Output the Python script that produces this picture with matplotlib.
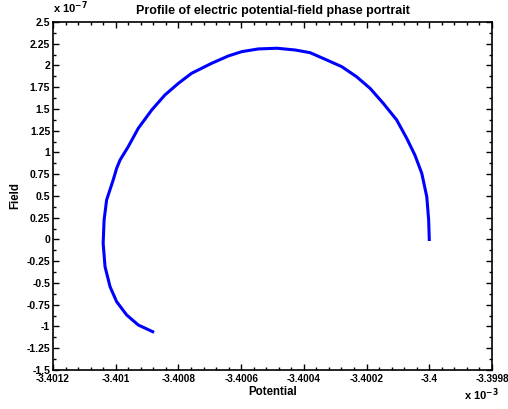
import numpy as np
import matplotlib.pyplot as plt
from matplotlib.ticker import AutoMinorLocator

plt.rcParams['font.family'] = ['Liberation Sans', 'DejaVu Sans']
plt.rcParams['font.weight'] = 'bold'

# Phase portrait samples: potential (V) and field
potential = np.array([
    -3.400000, -3.400002, -3.400008, -3.400024, -3.400046, -3.400072,
    -3.400104, -3.400147, -3.400189, -3.400232, -3.400279, -3.400327,
    -3.400380, -3.400428, -3.400486, -3.400545, -3.400598, -3.400641,
    -3.400694, -3.400758, -3.400800, -3.400843, -3.400885, -3.400928,
    -3.400960, -3.400986, -3.400997, -3.401008, -3.401029, -3.401037,
    -3.401040, -3.401034, -3.401018, -3.400997, -3.400965, -3.400928,
    -3.400882,
]) * 1e-3
field = np.array([
    0.000, 0.224, 0.492, 0.761, 0.971, 1.163,
    1.374, 1.566, 1.738, 1.871, 1.986, 2.063,
    2.147, 2.178, 2.198, 2.190, 2.159, 2.109,
    2.025, 1.910, 1.795, 1.661, 1.489, 1.278,
    1.067, 0.914, 0.818, 0.684, 0.454, 0.224,
    -0.044, -0.313, -0.543, -0.715, -0.868, -0.983,
    -1.060,
]) * 1e-7

fig = plt.figure(figsize=(5.08, 4.09), dpi=100)
ax = fig.add_axes([0.1043, 0.0954, 0.8642, 0.8509])

ax.plot(potential / 1e-3, field / 1e-7, color='#0000ff', lw=2.2)

ax.set_xlim(-3.4012, -3.3998)
ax.set_ylim(-1.5, 2.5)

xt = np.arange(-3.4012, -3.39979, 0.0002)
ax.set_xticks(xt)
ax.set_xticklabels(['%g' % round(v, 4) for v in xt])
yt = np.arange(-1.5, 2.51, 0.25)
ax.set_yticks(yt)
ax.set_yticklabels(['%g' % round(v, 2) for v in yt])
ax.xaxis.set_minor_locator(AutoMinorLocator(5))
ax.yaxis.set_minor_locator(AutoMinorLocator(2))

ax.tick_params(which='both', direction='in', top=True, right=True, width=1)
ax.tick_params(which='major', length=4)
ax.tick_params(which='minor', length=2)
ax.tick_params(axis='x', labelsize=7.2, pad=3)
ax.tick_params(axis='y', labelsize=7.5, pad=2)
for s in ax.spines.values():
    s.set_linewidth(1.2)

ax.set_title('Profile of electric potential-field phase portrait',
             fontsize=9, fontweight='bold', pad=6)
ax.set_xlabel('Potential', fontsize=8.3, fontweight='bold', labelpad=1)
ax.set_ylabel('Field', fontsize=8.3, fontweight='bold', labelpad=4)

fig.text(0.105, 0.962, r'x 10$^{-7}$', fontsize=8, fontweight='bold',
         ha='left', va='bottom')
fig.text(0.913, 0.015, r'x 10$^{-3}$', fontsize=8, fontweight='bold',
         ha='left', va='bottom')

fig.savefig('out.png', dpi=100)
